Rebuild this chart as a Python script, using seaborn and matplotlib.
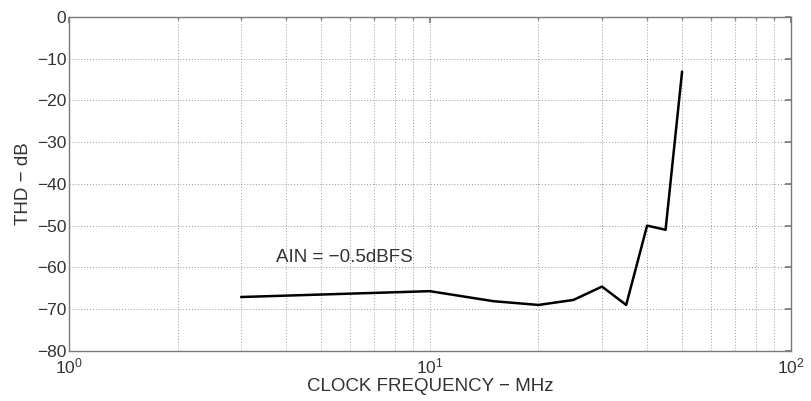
"""THD versus clock frequency, redrawn from the datasheet plot."""

import matplotlib
matplotlib.use("Agg")
import matplotlib.pyplot as plt
from matplotlib.ticker import LogLocator, NullFormatter
import pandas as pd
import seaborn as sns


CLOCK_MHZ = [3, 10, 15, 20, 25, 30, 35, 40, 45, 50]
THD_DB = [-67.1, -65.7, -68.1, -69.0, -67.8, -64.6, -69.0, -50.0, -51.0, -13.1]
Y_TICKS = [0, -10, -20, -30, -40, -50, -60, -70, -80]
ANNOTATION = "AIN = \u22120.5dBFS"


def main():
    data = pd.DataFrame({"clock": CLOCK_MHZ, "thd": THD_DB})

    sns.set_theme(style="white")
    plt.rcParams["font.family"] = ["Liberation Sans", "DejaVu Sans"]
    plt.rcParams["mathtext.fontset"] = "custom"
    plt.rcParams["mathtext.rm"] = "Liberation Sans"
    plt.rcParams["mathtext.it"] = "Liberation Sans"

    fig = plt.figure(figsize=(8.11, 4.01), dpi=100)
    ax = fig.add_axes([0.085, 0.125, 0.89, 0.833])

    sns.lineplot(data=data, x="clock", y="thd", color="black", linewidth=1.8, ax=ax)

    ax.set_xscale("log")
    ax.set_xlim(1, 100)
    ax.set_ylim(-80, 0)
    ax.set_yticks(Y_TICKS)
    ax.xaxis.set_minor_locator(LogLocator(base=10, subs=range(2, 10)))
    ax.xaxis.set_minor_formatter(NullFormatter())

    grid_style = dict(color="#9a9a9a", linestyle=(0, (1, 2)), linewidth=0.7)
    ax.grid(True, which="major", axis="both", **grid_style)
    ax.grid(True, which="minor", axis="x", **grid_style)

    for spine in ax.spines.values():
        spine.set_color("#7a7a7a")
        spine.set_linewidth(1.0)

    ax.tick_params(axis="both", which="both", direction="in", colors="#7a7a7a",
                   labelcolor="#333333", labelsize=12.5, top=True, right=True)
    ax.tick_params(which="major", length=4)
    ax.tick_params(axis="y", which="major", pad=2)
    ax.tick_params(axis="x", which="major", pad=4)
    ax.tick_params(which="minor", length=2.5)

    ax.set_xlabel("CLOCK FREQUENCY \u2212 MHz", fontsize=13.5, color="#333333", labelpad=1)
    ax.set_ylabel("THD \u2212 dB", fontsize=13.5, color="#333333", labelpad=3)

    ax.text(3.75, -57.7, ANNOTATION, fontsize=13.5, color="#333333", va="center")

    fig.savefig("out.png", dpi=100)
    plt.close(fig)


if __name__ == "__main__":
    main()
